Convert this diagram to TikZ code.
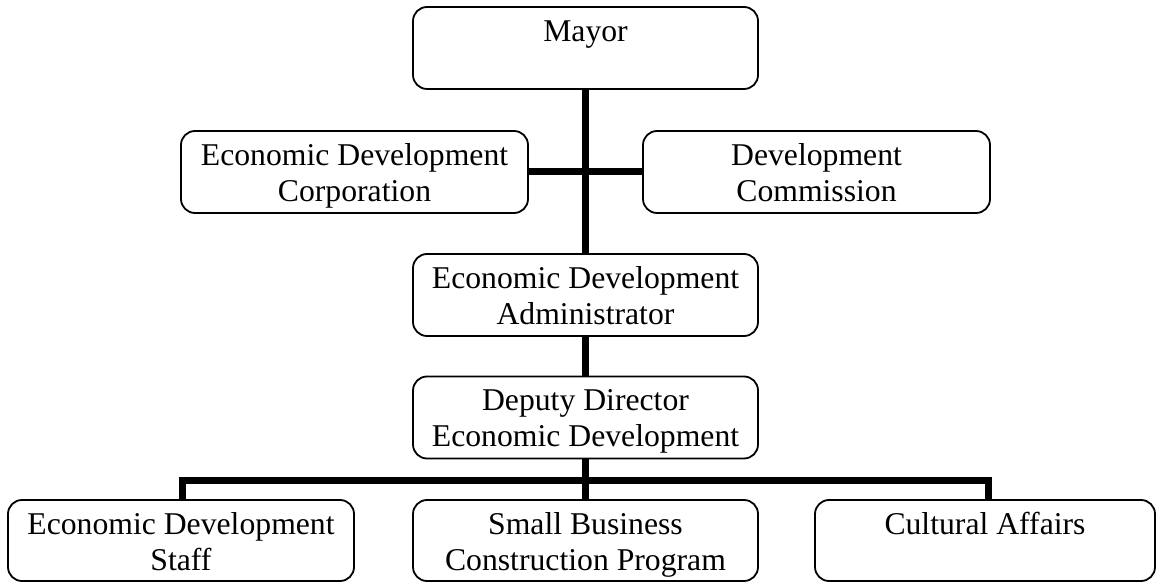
\documentclass[tikz,border=0pt]{standalone}
\usepackage{fontspec}
\setmainfont{Liberation Serif}
\begin{document}
\begin{tikzpicture}[
  box/.style={draw=black, line width=0.9pt, rounded corners=7pt, minimum height=41pt, inner sep=0pt, fill=white},
  lbl/.style={font=\fontsize{15.85}{18}\selectfont, align=center, inner sep=0pt, anchor=base},
  conn/.style={line width=3.5pt}
]
\useasboundingbox (0,0) rectangle (578pt,-291pt);
\coordinate (busL) at (91pt,-240pt);
\coordinate (busR) at (494pt,-240pt);
% boxes
\node[box, minimum width=172.5pt] (mayor) at (292.75pt,-24pt) {};
\node[box, minimum width=173.5pt] (corp) at (177.25pt,-86pt) {};
\node[box, minimum width=173.5pt] (comm) at (408.25pt,-86pt) {};
\node[box, minimum width=172.5pt] (admin) at (292.75pt,-147.5pt) {};
\node[box, minimum width=172.5pt] (deputy) at (292.75pt,-208.75pt) {};
\node[box, minimum width=173pt, minimum height=40.5pt] (staff) at (90.5pt,-270.25pt) {};
\node[box, minimum width=172.5pt, minimum height=40.5pt] (small) at (292.75pt,-270.25pt) {};
\node[box, minimum width=170pt, minimum height=40.5pt] (cult) at (492.5pt,-270.25pt) {};
% connectors
\draw[conn] (mayor.south) -- (admin.north);
\draw[conn] (corp.east) -- (comm.west);
\draw[conn] (admin.south) -- (deputy.north);
\draw[conn] (deputy.south) -- (small.north);
\draw[conn] ([xshift=-1.75pt]busL) -- ([xshift=1.75pt]busR);
\draw[conn] (busL) -- (busL |- staff.north);
\draw[conn] (busR) -- (busR |- cult.north);
% labels (base anchor = last line)
\node[lbl] (mayorT) at ([yshift=-17.5pt]mayor.north) {Mayor};
\node[lbl] (corpT) at ([yshift=-35.5pt]corp.north) {Economic Development\\Corporation};
\node[lbl] (commT) at ([yshift=-35.5pt]comm.north) {Development\\Commission};
\node[lbl] (adminT) at ([yshift=-35.5pt]admin.north) {Economic Development\\Administrator};
\node[lbl] (deputyT) at ([yshift=-35.5pt]deputy.north) {Deputy Director\\Economic Development};
\node[lbl] (staffT) at ([yshift=-35.5pt]staff.north) {Economic Development\\Staff};
\node[lbl] (smallT) at ([yshift=-35.5pt]small.north) {Small Business\\Construction Program};
\node[lbl] (cultT) at ([yshift=-17.5pt]cult.north) {Cultural Affairs};
\end{tikzpicture}
\end{document}
